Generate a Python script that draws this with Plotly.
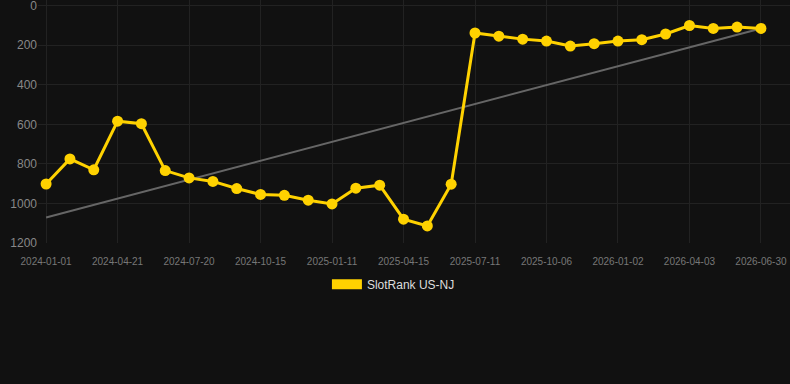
import plotly.graph_objects as go

# Categories (one per point); every third is labelled on the axis
dates = [
    "2024-01-01", "2024-02-07", "2024-03-15", "2024-04-21", "2024-05-21", "2024-06-20",
    "2024-07-20", "2024-08-18", "2024-09-16", "2024-10-15", "2024-11-13", "2024-12-12",
    "2025-01-11", "2025-02-11", "2025-03-14", "2025-04-15", "2025-05-14", "2025-06-12",
    "2025-07-11", "2025-08-09", "2025-09-07", "2025-10-06", "2025-11-04", "2025-12-03",
    "2026-01-02", "2026-02-01", "2026-03-03", "2026-04-03", "2026-05-02", "2026-05-31",
    "2026-06-30",
]
tick_labels = dates[::3]

rank = [902, 775, 830, 584, 597, 834, 871, 889, 925, 955, 959, 984, 1003, 923, 908,
        1080, 1114, 903, 138, 154, 169, 179, 204, 192, 179, 172, 143, 100, 115, 108, 115]

trend_x = [dates[0], dates[-1]]
trend_y = [1071, 115]

y_ticks = [0, 200, 400, 600, 800, 1000, 1200]

series_name = "SlotRank US-NJ"
yellow = "#FFD200"

fig = go.Figure()
fig.add_trace(go.Scatter(
    x=trend_x, y=trend_y, mode="lines",
    line=dict(color="#666666", width=2), showlegend=False, hoverinfo="skip",
))
fig.add_trace(go.Scatter(
    x=dates, y=rank, mode="lines+markers",
    line=dict(color=yellow, width=3), marker=dict(color=yellow, size=11),
    showlegend=False, name=series_name,
))
fig.add_trace(go.Scatter(
    x=[None], y=[None], mode="lines",
    line=dict(color=yellow, width=12), name=series_name, showlegend=True,
))

fig.update_layout(
    width=790, height=384,
    paper_bgcolor="#111111", plot_bgcolor="#111111",
    margin=dict(l=38, r=0, t=0, b=141),
    font=dict(family="Liberation Sans, Arial, sans-serif", color="#888888"),
    xaxis=dict(
        type="category", categoryorder="array", categoryarray=dates,
        tickmode="array", tickvals=tick_labels, ticktext=tick_labels,
        range=[-0.34, 31.22],
        showgrid=True, gridcolor="#222222", gridwidth=1,
        zeroline=False, showline=False,
        ticks="outside", ticklen=9, tickcolor="#111111",
        tickfont=dict(size=10, color="#777777"),
    ),
    yaxis=dict(
        range=[1200.5, -29], tickmode="array", tickvals=y_ticks,
        showgrid=True, gridcolor="#222222", gridwidth=1,
        zeroline=False, showline=False, ticks="",
        ticklabeloverflow="allow",
        tickfont=dict(size=12, color="#888888"),
    ),
    legend=dict(
        orientation="h", xref="container", yref="container",
        x=0.498, xanchor="center", y=0.26, yanchor="middle",
        font=dict(size=12, color="#dddddd"), bgcolor="rgba(0,0,0,0)",
    ),
    showlegend=True,
)

fig.write_html("out.html")
